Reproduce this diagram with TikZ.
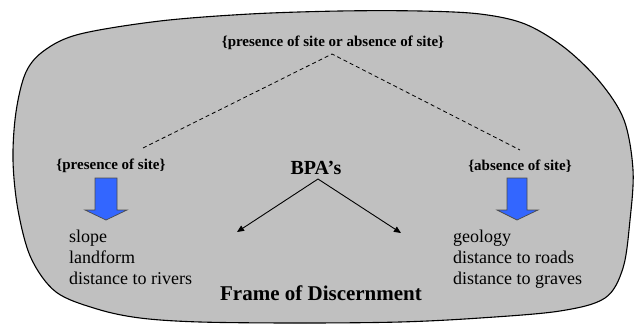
\documentclass[tikz,border=0pt]{standalone}
\usepackage{fontspec}
\newfontfamily\tnr{LiberationSerif}[Extension=.ttf, UprightFont=*-Regular, BoldFont=*-Bold]
\usetikzlibrary{arrows.meta}
\definecolor{blobgray}{RGB}{192,192,192}
\definecolor{arrowblue}{RGB}{51,102,255}
\tikzset{
  lbl/.style={inner sep=0pt, font=\tnr\bfseries\fontsize{15}{18}\selectfont},
  big/.style={inner sep=0pt, font=\tnr\bfseries\fontsize{20}{24}\selectfont},
  item/.style={inner sep=0pt, anchor=base west, font=\tnr\fontsize{18}{21}\selectfont},
  dashline/.style={dashed, dash pattern=on 4pt off 3pt, line width=0.8pt},
  bpaarrow/.style={line width=0.9pt, -{Triangle[length=7pt,width=6pt]}},
  bluearrow/.style={fill=arrowblue, draw=black!70, line width=0.7pt, line join=miter}
}
\begin{document}
\begin{tikzpicture}[x=1pt,y=-1pt]
\useasboundingbox (0,0) rectangle (637,324);
% blob
\draw[fill=blobgray, line width=1.1pt] plot[smooth cycle, tension=0.55] coordinates {
 (13,160) (16,112) (26,72) (45,50) (80,34) (160,21) (250,14) (340,11) (420,11)
 (480,14) (525,24) (565,48) (600,82) (624,120) (633,170) (630,220) (623,268)
 (605,298) (560,311) (480,318) (400,322) (300,323) (200,322) (140,318)
 (97,309) (56,292) (31,258) (18,210)};
% labels
\node[lbl] (top) at (333,43) {\{presence of site or absence of site\}};
\node[lbl] (pres) at (111,166) {\{presence of site\}};
\node[lbl] (abs) at (520,166) {\{absence of site\}};
\node[big] (bpa) at (316,168) {BPA’s};
\node[big, font=\tnr\bfseries\fontsize{21}{24}\selectfont] (frame) at (321,293) {Frame of Discernment};
% dashed connectors
\coordinate (apex) at (332,54);
\coordinate (dl) at (143,148);
\coordinate (dr) at (520,150);
\draw[dashline] (dl) -- (apex) -- (dr);
% BPA arrows
\coordinate (bpab) at (318,179);
\coordinate (al) at (237,232);
\coordinate (ar) at (401,233);
\draw[bpaarrow] (bpab) -- (al);
\draw[bpaarrow] (bpab) -- (ar);
% blue arrows
\draw[bluearrow] (95,178) -- (117,178) -- (117,210) -- (127,210) -- (106,220) -- (85,210) -- (95,210) -- cycle;
\draw[bluearrow] (507,178) -- (527,178) -- (527,210) -- (538,210) -- (517,220) -- (497,210) -- (507,210) -- cycle;
% lists
\node[item] (l1) at (69,242) {slope};
\node[item] (l2) at (69,263) {landform};
\node[item] (l3) at (69,284) {distance to rivers};
\node[item] (r1) at (453,242) {geology};
\node[item] (r2) at (453,263) {distance to roads};
\node[item] (r3) at (453,284) {distance to graves};
\end{tikzpicture}
\end{document}
